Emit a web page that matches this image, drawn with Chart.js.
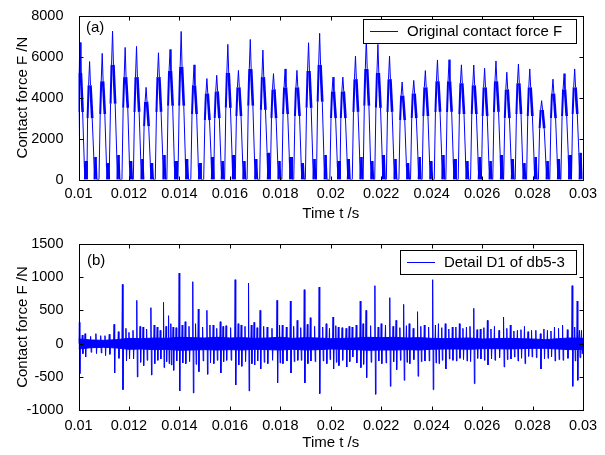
<!DOCTYPE html>
<html>
<head>
<meta charset="utf-8">
<script src="https://cdn.jsdelivr.net/npm/chart.js@4.4.0/dist/chart.umd.min.js"></script>
<style>
    body { margin: 0; background: #fff; }
    .panel { position: absolute; left: 0; width: 605px; }
    #top-panel { top: 0; height: 228px; }
    #bottom-panel { top: 228px; height: 227px; }
</style>
</head>
<body>
<div class="panel" id="top-panel"><canvas id="force-chart"></canvas></div>
<div class="panel" id="bottom-panel"><canvas id="detail-chart"></canvas></div>
<script>
// tick labels
var timeTicks = [0.01, 0.012, 0.014, 0.016, 0.018, 0.02, 0.022, 0.024, 0.026, 0.028, 0.03];
var forceTicks = [0, 2000, 4000, 6000, 8000];
var detailTicks = [-1000, -500, 0, 500, 1000, 1500];

// (a) original contact force: one entry per impact cycle
var peakTime = [0.01006, 0.01044, 0.01094, 0.01135, 0.01185, 0.01230, 0.01268, 0.01317, 0.01363, 0.01407,
    0.01458, 0.01509, 0.01548, 0.01592, 0.01634, 0.01681, 0.01731, 0.01773, 0.01819, 0.01866,
    0.01912, 0.01956, 0.02009, 0.02048, 0.02098, 0.02141, 0.02187, 0.02233, 0.02283, 0.02329,
    0.02375, 0.02423, 0.02469, 0.02518, 0.02567, 0.02610, 0.02655, 0.02698, 0.02744, 0.02789,
    0.02836, 0.02881, 0.02925, 0.02967];
var peakForce = [6690, 5760, 6160, 7250, 6450, 6500, 4500, 6190, 6350, 7230,
    5600, 4930, 5090, 6600, 5330, 6840, 6320, 5170, 5400, 5330,
    6680, 7140, 5000, 5000, 6030, 6900, 6600, 6030, 4760, 4840,
    5320, 5840, 5850, 5600, 5590, 5430, 5790, 5240, 5640, 5400,
    3850, 4900, 5170, 5400];
var upperForce = [5200, 4600, 4800, 5600, 5000, 5000, 3800, 5000, 5300, 5500,
    4600, 4200, 4300, 5200, 4500, 5400, 5000, 4400, 4500, 4500,
    5300, 5600, 4300, 4300, 4900, 5400, 5200, 4900, 4100, 4200,
    4500, 4800, 4800, 4700, 4600, 4500, 4800, 4400, 4700, 4500,
    3400, 4200, 4400, 4500];
var lowerForce = [3300, 3000, 3200, 3700, 3500, 3300, 2600, 3300, 3600, 3600,
    3200, 2900, 3000, 3500, 3100, 3600, 3400, 3000, 3200, 3100,
    3500, 3800, 3000, 3000, 3300, 3600, 3500, 3300, 2900, 3000,
    3100, 3300, 3300, 3200, 3200, 3100, 3300, 3000, 3200, 3100,
    2500, 3000, 3100, 3200];
var footForce = [900, 1100, 800, 1200, 900, 1000, 800, 1200, 900, 1000,
    800, 1100, 900, 1200, 900, 1000, 1300, 900, 1100, 800,
    1000, 1200, 900, 1000, 1100, 900, 1200, 1000, 800, 1100,
    900, 1200, 1000, 900, 1100, 900, 1200, 1000, 800, 1100,
    900, 1000, 1200, 1300];

// (b) detail D1: noise band edges every 0.0005 s, big spikes, smaller fringe spikes
var bandTime = [];
for (var b = 0; b <= 40; b++) bandTime.push(+(0.01 + b * 0.0005).toFixed(4));
var bandHigh = [70, 55, 50, 60, 80, 75, 85, 80, 95, 90, 85, 95, 85, 90, 80, 85, 95, 80, 90, 85,
    75, 80, 85, 95, 90, 95, 85, 90, 80, 75, 80, 85, 70, 75, 80, 75, 70, 60, 75, 85, 80];
var bandLow = [-80, -60, -55, -65, -85, -80, -90, -85, -100, -95, -90, -95, -90, -95, -85, -90, -95, -85, -95, -90,
    -80, -85, -90, -100, -95, -95, -90, -95, -85, -80, -80, -85, -75, -75, -80, -75, -70, -70, -80, -90, -85];
var spikeTime = [0.01003, 0.01026, 0.01069, 0.01105, 0.01141, 0.01174, 0.01200, 0.01231, 0.01256, 0.01287,
    0.01312, 0.01337, 0.01357, 0.01375, 0.01399, 0.01423, 0.01453, 0.01475, 0.01509, 0.01534,
    0.01562, 0.01585, 0.01621, 0.01645, 0.01674, 0.01696, 0.01720, 0.01748, 0.01787, 0.01808,
    0.01840, 0.01867, 0.01895, 0.01919, 0.01954, 0.01982, 0.02009, 0.02030, 0.02061, 0.02085,
    0.02117, 0.02140, 0.02175, 0.02200, 0.02234, 0.02259, 0.02289, 0.02311, 0.02344, 0.02371,
    0.02404, 0.02427, 0.02454, 0.02482, 0.02510, 0.02538, 0.02567, 0.02593, 0.02621, 0.02649,
    0.02685, 0.02712, 0.02740, 0.02768, 0.02796, 0.02831, 0.02859, 0.02887, 0.02919, 0.02957,
    0.02977, 0.02994];
var spikeUp = [320, 150, 150, 120, 290, 890, 170, 650, 250, 540,
    250, 620, 420, 250, 1060, 330, 930, 520, 500, 280,
    330, 270, 960, 280, 910, 320, 500, 250, 650, 280,
    640, 350, 810, 390, 850, 300, 400, 250, 230, 250,
    640, 500, 870, 300, 690, 350, 590, 300, 480, 280,
    960, 300, 300, 250, 300, 250, 530, 220, 350, 260,
    400, 280, 200, 260, 200, 150, 200, 250, 280, 870,
    640, 200];
var spikeDown = [-450, -200, -150, -180, -440, -690, -230, -500, -330, -470,
    -250, -360, -300, -400, -710, -300, -740, -420, -460, -300,
    -440, -250, -620, -340, -710, -320, -380, -300, -590, -300,
    -440, -250, -590, -260, -750, -300, -380, -330, -350, -200,
    -360, -510, -760, -300, -640, -390, -550, -300, -490, -260,
    -690, -300, -380, -250, -220, -260, -600, -230, -320, -250,
    -350, -230, -260, -300, -200, -380, -220, -260, -250, -640,
    -550, -150];
var fringeTime = [0.01015, 0.01048, 0.01088, 0.01122, 0.01158, 0.01188, 0.01216, 0.01244, 0.01270, 0.01300,
    0.01324, 0.01347, 0.01366, 0.01387, 0.01411, 0.01438, 0.01464, 0.01492, 0.01521, 0.01548,
    0.01573, 0.01603, 0.01633, 0.01660, 0.01685, 0.01708, 0.01734, 0.01767, 0.01797, 0.01824,
    0.01853, 0.01881, 0.01907, 0.01936, 0.01968, 0.01995, 0.02020, 0.02045, 0.02073, 0.02101,
    0.02128, 0.02158, 0.02188, 0.02217, 0.02247, 0.02274, 0.02300, 0.02327, 0.02357, 0.02388,
    0.02415, 0.02440, 0.02468, 0.02496, 0.02524, 0.02552, 0.02580, 0.02607, 0.02635, 0.02667,
    0.02698, 0.02726, 0.02754, 0.02782, 0.02813, 0.02845, 0.02873, 0.02903, 0.02938, 0.02967, 0.02986];
var fringeUp = [130, 110, 120, 140, 180, 230, 200, 260, 220, 280,
    200, 260, 300, 240, 280, 260, 300, 250, 280, 230,
    260, 240, 300, 260, 280, 240, 260, 230, 280, 250,
    260, 240, 290, 260, 250, 230, 270, 240, 260, 280,
    300, 270, 250, 280, 260, 240, 270, 230, 260, 250,
    280, 240, 220, 250, 230, 260, 210, 240, 220, 200,
    230, 190, 210, 180, 200, 220, 190, 230, 210, 250, 200];
var fringeDown = [-150, -130, -140, -160, -220, -260, -230, -280, -250, -300,
    -230, -270, -320, -260, -290, -270, -310, -260, -290, -250,
    -270, -250, -320, -270, -300, -260, -280, -250, -290, -260,
    -270, -250, -300, -270, -260, -240, -280, -250, -270, -290,
    -310, -280, -260, -290, -270, -250, -280, -240, -270, -260,
    -290, -250, -230, -260, -240, -270, -220, -250, -230, -210,
    -240, -200, -220, -190, -210, -230, -200, -240, -220, -260, -210];

var PX = (0.03 - 0.01) / 504; // seconds per screen pixel in the plot area
var FONT = "'Liberation Sans', Arial, sans-serif";

// build the force trace, one cycle at a time
var cycleOffsets = [-3.2, -2.0, -1.0, 0, 0.9, 2.6, 4.2, 5.0, 6.0, 6.9];
var cycleWidths = [1, 2, 1, 1, 2.6, 1, 1.2, 2.2, 2, 1];
var forcePoints = [];
peakTime.forEach(function(tp, i) {
    var levels = [0, lowerForce[i], upperForce[i], peakForce[i], upperForce[i], lowerForce[i], footForce[i], 0, footForce[i], 0];
    cycleOffsets.forEach(function(off, k) {
        forcePoints.push({x: tp + off * PX, y: levels[k], w: cycleWidths[k]});
    });
});

// each spike: up stroke then down stroke, back to zero
var spikes = [];
spikeTime.forEach(function(t, i) { spikes.push([t, spikeUp[i], spikeDown[i]]); });
fringeTime.forEach(function(t, i) { spikes.push([t, fringeUp[i], fringeDown[i]]); });
spikes.sort(function(a, b) { return a[0] - b[0]; });
var spikePoints = [];
spikes.forEach(function(s) {
    spikePoints.push({x: s[0] - 0.5 * PX, y: 0});
    spikePoints.push({x: s[0], y: s[1]});
    spikePoints.push({x: s[0] + 0.6 * PX, y: s[2]});
    spikePoints.push({x: s[0] + 1.1 * PX, y: 0});
});

// frame, inward ticks, panel tag and legend, MATLAB style
var framePlugin = {
    id: 'frame',
    afterDatasetsDraw: function(chart, args, opts) {
        var ctx = chart.ctx, a = chart.chartArea;
        var xs = chart.scales.x, ys = chart.scales.y;
        var L = Math.round(a.left) + 0.5, R = Math.round(a.right) + 0.5;
        var T = Math.round(a.top) + 0.5, B = Math.round(a.bottom) + 0.5;
        ctx.save();
        ctx.strokeStyle = '#000';
        ctx.lineWidth = 1;
        ctx.beginPath();
        xs.ticks.forEach(function(t) {
            var px = Math.round(xs.getPixelForValue(t.value)) + 0.5;
            ctx.moveTo(px, B); ctx.lineTo(px, B - 4);
            ctx.moveTo(px, T); ctx.lineTo(px, T + 4);
        });
        ys.ticks.forEach(function(t) {
            var py = Math.round(ys.getPixelForValue(t.value)) + 0.5;
            ctx.moveTo(L, py); ctx.lineTo(L + 4, py);
            ctx.moveTo(R, py); ctx.lineTo(R - 4, py);
        });
        ctx.stroke();
        ctx.strokeRect(L, T, R - L, B - T);

        ctx.fillStyle = '#000';
        ctx.font = '15px ' + FONT;
        ctx.textBaseline = 'middle';
        ctx.textAlign = 'left';
        ctx.fillText(opts.tag, opts.tagX, opts.tagY);

        var box = opts.box;
        ctx.fillStyle = '#fff';
        ctx.fillRect(box[0], box[1], box[2], box[3]);
        ctx.strokeRect(box[0] + 0.5, box[1] + 0.5, box[2], box[3]);
        var my = Math.round(box[1] + box[3] / 2) + 0.5;
        ctx.strokeStyle = '#0000ff';
        ctx.beginPath();
        ctx.moveTo(box[0] + 7, my); ctx.lineTo(box[0] + 35, my);
        ctx.stroke();
        ctx.fillStyle = '#000';
        ctx.fillText(opts.legend, box[0] + 44, my + 0.5);
        ctx.restore();
    }
};

function makeScales(yTicks, yMin, yMax, xHeight, xTitlePad, xTickPad) {
    return {
        x: {
            type: 'linear', min: 0.01, max: 0.03,
            afterBuildTicks: function(s) { s.ticks = timeTicks.map(function(v) { return {value: v}; }); },
            afterFit: function(s) { s.height = xHeight; },
            grid: {display: false}, border: {display: false},
            ticks: {
                color: '#000', font: {family: FONT, size: 14.5}, padding: xTickPad,
                maxRotation: 0, autoSkip: false,
                callback: function(v) { return String(+v.toFixed(3)); }
            },
            title: {display: true, text: 'Time t /s', color: '#000', font: {family: FONT, size: 15}, padding: {top: 0, bottom: xTitlePad}}
        },
        y: {
            type: 'linear', min: yMin, max: yMax,
            afterBuildTicks: function(s) { s.ticks = yTicks.map(function(v) { return {value: v}; }); },
            afterFit: function(s) { s.width = 78.5; },
            grid: {display: false}, border: {display: false},
            ticks: {
                color: '#000', font: {family: FONT, size: 14.5}, padding: 7, autoSkip: false,
                callback: function(v) { return String(v); }
            },
            title: {display: true, text: 'Contact force F /N', color: '#000', font: {family: FONT, size: 15}, padding: {top: 14, bottom: 0}}
        }
    };
}

new Chart(document.getElementById('force-chart'), {
    type: 'line',
    data: {
        datasets: [{
            label: 'Original contact force F',
            data: forcePoints,
            borderColor: '#0000ff',
            borderWidth: 1,
            pointRadius: 0,
            tension: 0,
            segment: { borderWidth: function(c) { return forcePoints[c.p0DataIndex].w; } }
        }]
    },
    options: {
        responsive: true,
        maintainAspectRatio: false,
        animation: false,
        layout: {padding: {left: 0, right: 22, top: 12.5, bottom: 0}},
        scales: makeScales(forceTicks, 0, 8000, 48.5, 5, -2),
        plugins: {
            legend: {display: false},
            tooltip: {enabled: false},
            frame: {tag: '(a)', tagX: 86, tagY: 27.5, legend: 'Original contact force F', box: [363, 19, 213, 24]}
        }
    },
    plugins: [framePlugin]
});

var bandHighPts = bandTime.map(function(t, i) { return {x: t, y: bandHigh[i]}; });
var bandLowPts = bandTime.map(function(t, i) { return {x: t, y: bandLow[i]}; });

new Chart(document.getElementById('detail-chart'), {
    type: 'line',
    data: {
        datasets: [{
            label: 'band high',
            data: bandHighPts,
            borderColor: '#0000ff', borderWidth: 1, pointRadius: 0, tension: 0,
            backgroundColor: '#0000ff', fill: '+1'
        }, {
            label: 'band low',
            data: bandLowPts,
            borderColor: '#0000ff', borderWidth: 1, pointRadius: 0, tension: 0, fill: false
        }, {
            label: 'Detail D1 of db5-3',
            data: spikePoints,
            borderColor: '#0000ff', borderWidth: 1, pointRadius: 0, tension: 0, fill: false
        }]
    },
    options: {
        responsive: true,
        maintainAspectRatio: false,
        animation: false,
        layout: {padding: {left: 0, right: 22, top: 13, bottom: 0}},
        scales: makeScales(detailTicks, -1000, 1500, 44.7, 3, -1),
        plugins: {
            legend: {display: false},
            tooltip: {enabled: false},
            filler: {propagate: false},
            frame: {tag: '(b)', tagX: 87, tagY: 33, legend: 'Detail D1 of db5-3', box: [400, 22, 176, 24]}
        }
    },
    plugins: [framePlugin]
});
</script>
</body>
</html>
